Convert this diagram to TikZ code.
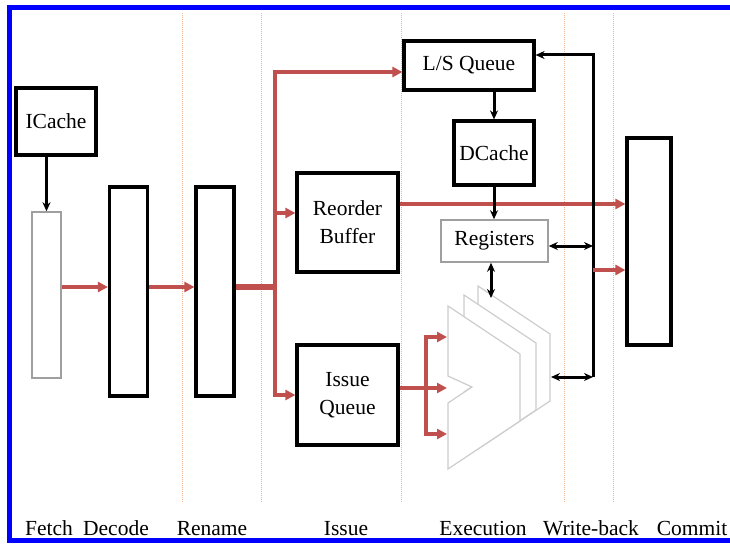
\documentclass[tikz,border=0pt]{standalone}
\usepackage{fontspec}
\setmainfont{Liberation Serif}
\usetikzlibrary{arrows.meta}
\definecolor{rojo}{RGB}{192,80,77}
\definecolor{guiacolor}{RGB}{232,180,145}
\definecolor{marco}{RGB}{0,0,255}

\begin{document}
\begin{tikzpicture}[
    x=1pt,
    y=-1pt,
    >={Triangle[length=10pt,width=10pt]},
    font=\fontsize{21.5}{28}\selectfont,
    caja/.style={draw,line width=3.2pt,inner sep=0pt,align=center},
    fina/.style={draw=gray!75,line width=1.5pt,inner sep=0pt,align=center},
    flujo/.style={draw=rojo,line width=3.5pt,->},
    negra/.style={line width=3pt,-{Stealth[length=9pt,width=8pt]}},
    doble/.style={line width=3pt,{Stealth[length=9pt,width=8pt]}-{Stealth[length=9pt,width=8pt]}},
    guia/.style={draw=guiacolor,line width=1pt,densely dotted},
    unidad/.style={draw=gray!40,line width=1.2pt,fill=white},
    etapa/.style={anchor=base}
]
    \useasboundingbox (0,0) rectangle (730,543);

    % separadores de etapas
    \foreach \x in {182,261,401,564,613}
        \draw[guia] (\x,13) -- (\x,503);

    % unidades funcionales
    \foreach \dx/\dy in {30/-20,16/-11,0/0}
        \draw[unidad,shift={({448+\dx},{306+\dy})}]
            (0,0) -- (72,48) -- (72,115) -- (0,163) -- (0,97) -- (24,81) -- (0,70) -- cycle;

    \node[caja,minimum width=80pt,minimum height=67pt] (icache) at (56,121.5) {ICache};
    \node[fina,minimum width=29pt,minimum height=166pt] (fetch) at (46.5,295) {};
    \node[caja,minimum width=38pt,minimum height=209pt] (decode) at (128.5,291.5) {};
    \node[caja,minimum width=38pt,minimum height=209pt] (rename) at (215,291.5) {};
    \node[caja,minimum width=101pt,minimum height=99pt] (rob) at (347.5,222.5) {Reorder\\Buffer};
    \node[caja,minimum width=101pt,minimum height=100pt] (iq) at (347.5,395) {Issue\\Queue};
    \node[caja,minimum width=130pt,minimum height=49pt] (lsq) at (469,65.5) {L/S Queue};
    \node[caja,minimum width=80pt,minimum height=64pt] (dcache) at (494,153) {DCache};
    \node[fina,minimum width=107pt,minimum height=42pt] (regs) at (494.5,241) {Registers};
    \node[caja,minimum width=44pt,minimum height=207pt] (commit) at (649,241.5) {};

    \coordinate (bus) at (275,287);
    \coordinate (bustop) at (275,72);
    \coordinate (robin) at ([yshift=9.5pt]rob.west);
    \coordinate (fork) at (426,388);
    \coordinate (ex1) at (447,337);
    \coordinate (ex2) at (447,388);
    \coordinate (ex3) at (447,434);
    \coordinate (exreg) at (491,298);
    \coordinate (exout) at (551,377);
    \coordinate (wbtop) at (593,55);
    \coordinate (wbbot) at (593,377);
    \coordinate (wbred) at (593,270);

    % flujo de instrucciones
    \draw[negra] (icache.south -| fetch.north) -- (fetch.north);
    \draw[flujo] (fetch.east |- bus) -- (decode.west |- bus);
    \draw[flujo] (decode.east |- bus) -- (rename.west |- bus);
    \draw[rojo,line width=6pt] (rename.east |- bus) -- (bus);
    \draw[flujo] (bus) -- (bustop) -- (lsq.west |- bustop);
    \draw[flujo] (bus |- robin) -- (robin);
    \draw[flujo] (bus) |- (iq.west);
    \draw[flujo] ([yshift=18.5pt]rob.east) -- ([yshift=18.5pt]rob.east -| commit.west);
    \draw[flujo] ([yshift=7pt]iq.east) -- (ex2);
    \draw[flujo] (fork) |- (ex1);
    \draw[flujo] (fork) |- (ex3);

    % memoria y registros
    \draw[negra] (lsq.south -| dcache.north) -- (dcache.north);
    \draw[negra] (dcache.south) -- (regs.north -| dcache.south);
    \draw[doble] (regs.south -| exreg) -- (exreg);

    % escritura
    \draw[negra] (wbbot) -- (wbtop) -- ([yshift=10.5pt]lsq.east);
    \draw[doble] (exout) -- (wbbot);
    \draw[doble] ([yshift=-5pt]regs.east) -- ([yshift=-5pt]regs.east -| wbtop);
    \draw[flujo] (wbred) -- (wbred -| commit.west);

    % etapas
    \foreach \x/\nombre/\id in {49/Fetch/fe,116/Decode/de,212/Rename/re,346/Issue/is,
                                483/Execution/ex,591/Write-back/wb,692/Commit/co}
        \node[etapa] (et-\id) at (\x,535) {\nombre};

    \draw[marco,line width=5pt] (730,7.5) -- (9.5,7.5) -- (9.5,540.5) -- (730,540.5);
\end{tikzpicture}
\end{document}
